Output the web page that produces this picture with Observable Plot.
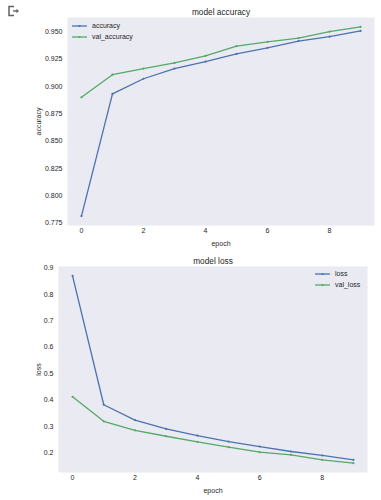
<!DOCTYPE html>
<html>
<head>
<meta charset="utf-8">
<script src="https://cdn.jsdelivr.net/npm/d3@7"></script>
<script src="https://cdn.jsdelivr.net/npm/@observablehq/plot@0.6"></script>
<style>
  body { margin: 0; background: white; font-family: "Liberation Sans", Arial, sans-serif; }
  #wrap { position: relative; width: 381px; height: 500px; overflow: hidden; }
  .chart { position: absolute; left: 0; }
  .legend { position: absolute; font-size: 7px; color: #262626; line-height: 10.5px; }
  .legend div { display: flex; align-items: center; height: 10.5px; }
  .legend svg { margin-right: 5px; }
</style>
</head>
<body>
<div id="wrap">
  <svg style="position:absolute;left:7px;top:5px" width="14" height="12" viewBox="0 0 14 12">
    <path d="M7 1.5 H2 V10.5 H7" fill="none" stroke="#616161" stroke-width="1.5"/>
    <path d="M6 6 H10" stroke="#616161" stroke-width="1.4"/>
    <path d="M9.5 3.8 L12 6 L9.5 8.2 Z" fill="#616161"/>
  </svg>
  <div id="c1" class="chart" style="top:0"></div>
  <div id="c2" class="chart" style="top:250px"></div>
  <div id="leg1" class="legend"></div>
  <div id="leg2" class="legend"></div>
</div>
<script>
const epochs = [0, 1, 2, 3, 4, 5, 6, 7, 8, 9];
const accuracy = [0.7812, 0.8932, 0.9071, 0.9164, 0.9228, 0.9299, 0.9355, 0.9417, 0.9457, 0.9510];
const valAccuracy = [0.8901, 0.9108, 0.9164, 0.9216, 0.9281, 0.9370, 0.9410, 0.9444, 0.9503, 0.9546];
const loss = [0.870, 0.382, 0.324, 0.2905, 0.2653, 0.2427, 0.2239, 0.205, 0.190, 0.1736];
const valLoss = [0.4124, 0.3194, 0.2854, 0.2628, 0.2415, 0.2214, 0.2025, 0.1924, 0.1736, 0.161];
const xTicks = [0, 2, 4, 6, 8];
const accTicks = [0.775, 0.800, 0.825, 0.850, 0.875, 0.900, 0.925, 0.950];
const lossTicks = [0.2, 0.3, 0.4, 0.5, 0.6, 0.7, 0.8, 0.9];
const accSeries = ["accuracy", "val_accuracy"];
const lossSeries = ["loss", "val_loss"];
const colors = ["#4C72B0", "#55A868"];

function pad(vals) {
  const lo = d3.min(vals), hi = d3.max(vals), m = (hi - lo) * 0.05;
  return [lo - m, hi + m];
}

function rowsOf(names, arrays) {
  return names.flatMap((s, i) => epochs.map((e, j) => ({epoch: e, value: arrays[i][j], series: s})));
}

function chart({rows, names, yTicks, yFormat, yLabel, yLabelOffset, title, ml, mr, mt, mb, yDomain}) {
  return Plot.plot({
    width: 381, height: 250,
    marginLeft: ml, marginRight: mr, marginTop: mt, marginBottom: mb,
    style: {fontFamily: "Liberation Sans, Arial, sans-serif", fontSize: "7px", color: "#262626", background: "transparent", overflow: "visible"},
    x: {domain: pad(epochs)},
    y: {domain: yDomain},
    color: {domain: names, range: colors},
    marks: [
      Plot.frame({fill: "#EAEAF2", stroke: null}),
      Plot.axisX({ticks: xTicks, tickSize: 0, tickPadding: 3, label: "epoch", labelAnchor: "center", labelArrow: "none", labelOffset: 20, fontSize: 7}),
      Plot.axisY({ticks: yTicks, tickFormat: yFormat, tickSize: 0, tickPadding: 5, label: yLabel, labelAnchor: "center", labelArrow: "none", labelOffset: yLabelOffset, fontSize: 7}),
      Plot.line(rows, {x: "epoch", y: "value", stroke: "series", z: "series", strokeWidth: 1.3}),
      Plot.dot(rows, {x: "epoch", y: "value", fill: "series", r: 1.1}),
      Plot.text([title], {frameAnchor: "top", lineAnchor: "bottom", dy: -3, fontSize: 8.3, fill: "#262626"})
    ]
  });
}

const accRows = rowsOf(accSeries, [accuracy, valAccuracy]);
const lossRows = rowsOf(lossSeries, [loss, valLoss]);

document.getElementById("c1").append(chart({
  rows: accRows, names: accSeries, yTicks: accTicks, yFormat: d3.format(".3f"), yLabel: "accuracy", yLabelOffset: 31,
  title: "model accuracy", ml: 67, mr: 7, mt: 17, mb: 25,
  yDomain: pad(accuracy.concat(valAccuracy))
}));
document.getElementById("c2").append(chart({
  rows: lossRows, names: lossSeries, yTicks: lossTicks, yFormat: d3.format(".1f"), yLabel: "loss", yLabelOffset: 22,
  title: "model loss", ml: 58, mr: 14, mt: 16, mb: 28,
  yDomain: pad(loss.concat(valLoss))
}));

function legend(el, names, left, top) {
  el.style.left = left + "px";
  el.style.top = top + "px";
  names.forEach((n, i) => {
    const row = document.createElement("div");
    row.innerHTML = `<svg width="15" height="4"><line x1="0" y1="2" x2="15" y2="2" stroke="${colors[i]}" stroke-width="1.3"/><circle cx="7.5" cy="2" r="1.1" fill="${colors[i]}"/></svg><span>${n}</span>`;
    el.append(row);
  });
}
legend(document.getElementById("leg1"), accSeries, 72, 21);
legend(document.getElementById("leg2"), lossSeries, 315, 269);
</script>
</body>
</html>
